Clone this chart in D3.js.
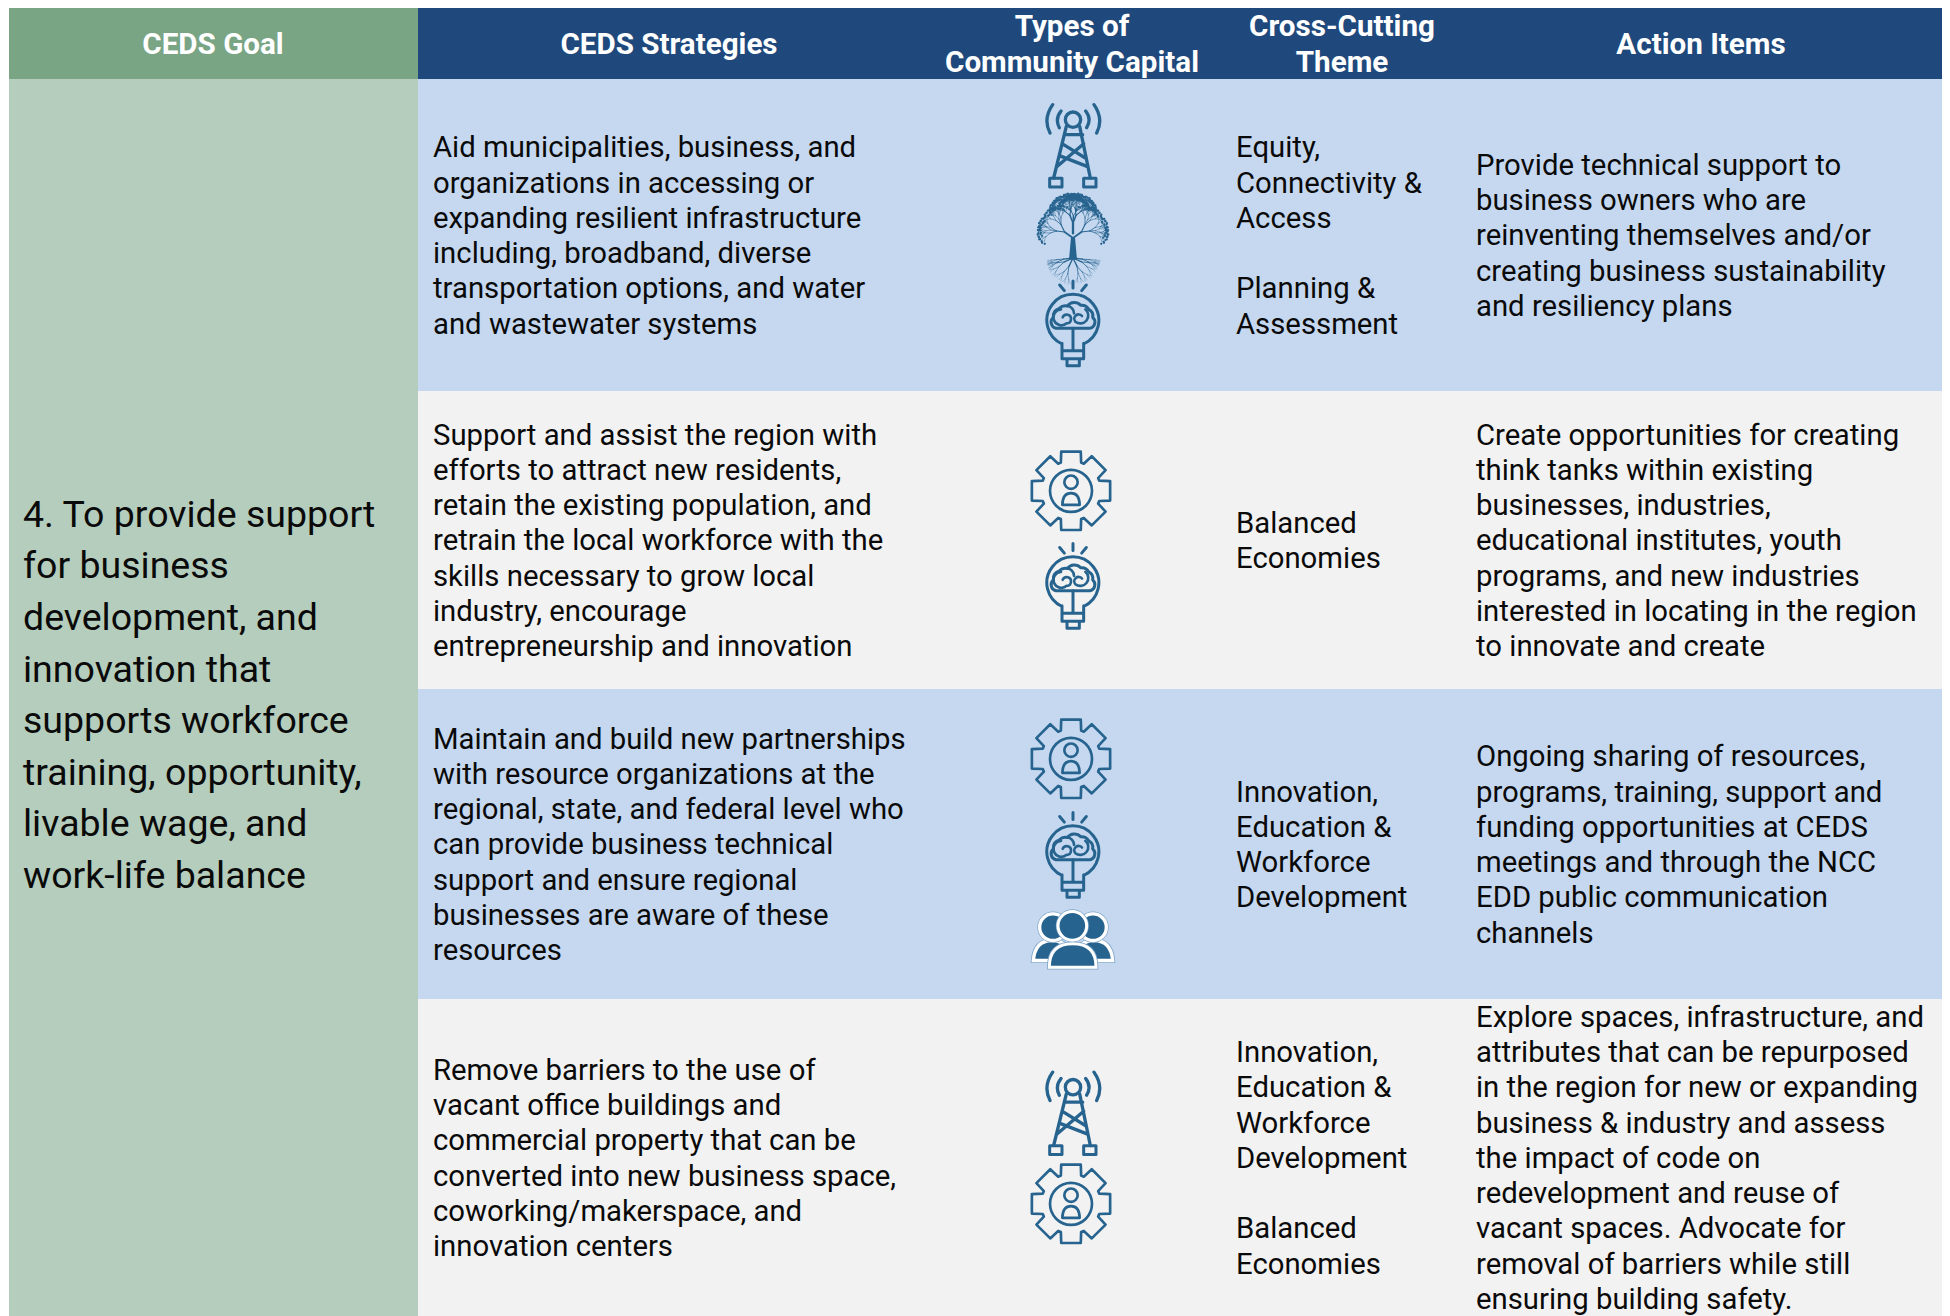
<!DOCTYPE html>
<html>
<head>
<meta charset="utf-8">
<script src="https://cdnjs.cloudflare.com/ajax/libs/d3/7.8.5/d3.min.js"></script>
<style>
  html, body { margin: 0; padding: 0; background: #fff; }
  svg { display: block; }
  text { font-family: Roboto, sans-serif; }
</style>
</head>
<body>
<div id="chart"></div>
<script>
// table content
var columns = ['goal', 'strategy', 'capital', 'theme', 'action'];
var headers = [
  ['CEDS Goal'],
  ['CEDS Strategies'],
  ['Types of', 'Community Capital'],
  ['Cross-Cutting', 'Theme'],
  ['Action Items']
];
var goalLines = [
  '4. To provide support', 'for business', 'development, and', 'innovation that',
  'supports workforce', 'training, opportunity,', 'livable wage, and', 'work-life balance'
];
var strategies = [
  ['Aid municipalities, business, and', 'organizations in accessing or', 'expanding resilient infrastructure', 'including, broadband, diverse', 'transportation options, and water', 'and wastewater systems'],
  ['Support and assist the region with', 'efforts to attract new residents,', 'retain the existing population, and', 'retrain the local workforce with the', 'skills necessary to grow local', 'industry, encourage', 'entrepreneurship and innovation'],
  ['Maintain and build new partnerships', 'with resource organizations at the', 'regional, state, and federal level who', 'can provide business technical', 'support and ensure regional', 'businesses are aware of these', 'resources'],
  ['Remove barriers to the use of', 'vacant office buildings and', 'commercial property that can be', 'converted into new business space,', 'coworking/makerspace, and', 'innovation centers']
];
var capitals = [
  ['tower', 'tree', 'bulb'],
  ['gear', 'bulb'],
  ['gear', 'bulb', 'people'],
  ['tower', 'gear']
];
var themes = [
  ['Equity,', 'Connectivity &', 'Access', '', 'Planning &', 'Assessment'],
  ['Balanced', 'Economies'],
  ['Innovation,', 'Education &', 'Workforce', 'Development'],
  ['Innovation,', 'Education &', 'Workforce', 'Development', '', 'Balanced', 'Economies']
];
var actions = [
  ['Provide technical support to', 'business owners who are', 'reinventing themselves and/or', 'creating business sustainability', 'and resiliency plans'],
  ['Create opportunities for creating', 'think tanks within existing', 'businesses, industries,', 'educational institutes, youth', 'programs, and new industries', 'interested in locating in the region', 'to innovate and create'],
  ['Ongoing sharing of resources,', 'programs, training, support and', 'funding opportunities at CEDS', 'meetings and through the NCC', 'EDD public communication', 'channels'],
  ['Explore spaces, infrastructure, and', 'attributes that can be repurposed', 'in the region for new or expanding', 'business & industry and assess', 'the impact of code on', 'redevelopment and reuse of', 'vacant spaces. Advocate for', 'removal of barriers while still', 'ensuring building safety.']
];

// layout
var width = 1950, height = 1316;
var colEdges = [9, 418, 1942];
var rowEdges = [79, 391, 689, 999, 1316];
var headTop = 8;
var headCenter = d3.scaleOrdinal().domain(columns).range([213, 669, 1072, 1342, 1701]);
var textLeft = d3.scaleOrdinal().domain(columns).range([23, 433, 0, 1236, 1476]);
var rowFill = ['#c5d8f0', '#f2f2f2', '#c5d8f0', '#f2f2f2'];
var iconColor = '#28648f';
var iconGap = [6, 11, 12, 8];
var lineH = 35.25, goalLineH = 51.6;

// size of each pictogram, x is the center column for it
var iconSize = {
  tower: { h: 85, cx: 1073 },
  tree: { h: 80, cx: 1073 },
  bulb: { h: 87, cx: 1073 },
  gear: { h: 81, cx: 1071 },
  people: { h: 59, cx: 1073 }
};

var svg = d3.select('#chart').append('svg').attr('width', width).attr('height', height);

var soft = svg.append('defs').append('filter').attr('id', 'soft');
soft.append('feGaussianBlur').attr('stdDeviation', 0.45);

// backgrounds
svg.append('rect').attr('x', colEdges[0]).attr('y', headTop).attr('width', colEdges[1] - colEdges[0]).attr('height', rowEdges[0] - headTop).attr('fill', '#79a585');
svg.append('rect').attr('x', colEdges[1]).attr('y', headTop).attr('width', colEdges[2] - colEdges[1]).attr('height', rowEdges[0] - headTop).attr('fill', '#1f497d');
svg.append('rect').attr('x', colEdges[0]).attr('y', rowEdges[0]).attr('width', colEdges[1] - colEdges[0]).attr('height', height - rowEdges[0]).attr('fill', '#b5cdbc');
svg.selectAll('rect.row').data(rowFill).enter().append('rect')
  .attr('class', 'row')
  .attr('x', colEdges[1])
  .attr('y', function(d, i) { return rowEdges[i]; })
  .attr('width', colEdges[2] - colEdges[1])
  .attr('height', function(d, i) { return rowEdges[i + 1] - rowEdges[i]; })
  .attr('fill', function(d) { return d; });

// headers
var head = svg.selectAll('g.head').data(headers).enter().append('g').attr('class', 'head');
head.selectAll('text').data(function(d, i) {
    return d.map(function(t, j) { return { t: t, col: columns[i], j: j, n: d.length }; });
  }).enter().append('text')
  .attr('x', function(d) { return headCenter(d.col); })
  .attr('y', function(d) { return (headTop + rowEdges[0]) / 2 + (d.j - (d.n - 1) / 2) * 36 + 10; })
  .attr('text-anchor', 'middle')
  .attr('font-weight', 700)
  .attr('font-size', 29.6)
  .attr('fill', '#fff')
  .text(function(d) { return d.t; });

// one block of left aligned lines, centered on cy
function block(g, lines, x, cy, lh, size) {
  g.append('g').selectAll('text').data(lines).enter().append('text')
    .attr('x', x)
    .attr('y', function(d, i) { return cy + (i - (lines.length - 1) / 2) * lh + size * 0.35 + 0.2; })
    .attr('font-size', size)
    .attr('fill', '#0a0a0a')
    .text(function(d) { return d; });
}

block(svg, goalLines, textLeft('goal'), 694, goalLineH, 37.5);
strategies.forEach(function(lines, i) { block(svg, lines, textLeft('strategy'), (rowEdges[i] + rowEdges[i + 1]) / 2, lineH, 29.3); });
themes.forEach(function(lines, i) { block(svg, lines, textLeft('theme'), (rowEdges[i] + rowEdges[i + 1]) / 2, lineH, 29.3); });
actions.forEach(function(lines, i) { block(svg, lines, textLeft('action'), (rowEdges[i] + rowEdges[i + 1]) / 2, lineH, 29.3); });

// pictograms, drawn at 3x and scaled down
function drawTower(g) {
  g.attr('fill', 'none').attr('stroke', iconColor).attr('stroke-width', 10).attr('stroke-linecap', 'round').attr('stroke-linejoin', 'round');
  g.append('circle').attr('cx', 83).attr('cy', 50).attr('r', 23);
  g.append('path').attr('d', 'M22,5 Q-8,48 14,90 M146,5 Q176,48 154,90 M47,24 Q28,48 42,74 M121,24 Q140,48 124,74');
  g.append('path').attr('d', 'M63,70 L25,225 M103,70 L135,225 M57,95 L112,95 M50,122 L120,165 M115,122 L36,190 M42,158 L125,190');
  g.append('rect').attr('x', 13).attr('y', 226).attr('width', 37).attr('height', 26).attr('stroke-width', 9);
  g.append('rect').attr('x', 115).attr('y', 226).attr('width', 37).attr('height', 26).attr('stroke-width', 9);
}

function drawBulb(g) {
  g.attr('fill', 'none').attr('stroke', iconColor).attr('stroke-width', 9).attr('stroke-linecap', 'round').attr('stroke-linejoin', 'round');
  g.append('path').attr('d', 'M41,15 L55,32 M81,3 L81,24 M121,15 L107,32');
  g.append('path').attr('d', 'M48,190 L48,235 M113,190 L113,235 M48,192 A78,78 0 1 1 113,192 M48,212 L113,212 M48,236 L113,236 M63,238 L63,257 L100,257 L100,238 M81,145 L81,212');
  // brain cloud
  g.append('path').attr('d', 'M30,145 A19,19 0 0 1 22,112 A24,24 0 0 1 40,85 A25,25 0 0 1 64,78 A26,26 0 0 1 104,76 A24,24 0 0 1 128,88 A22,22 0 0 1 140,112 A19,19 0 0 1 132,145 Z');
  g.append('path').attr('stroke-width', 8).attr('d', 'M45,88 A24,24 0 1 0 62,130 M62,130 A13,13 0 1 0 50,112 M118,88 A23,23 0 1 1 88,125 A12,12 0 1 1 108,108 M64,78 A22,22 0 0 1 84,100');
}

function drawGear(g) {
  g.attr('fill', 'none').attr('stroke', iconColor).attr('stroke-width', 8).attr('stroke-linejoin', 'round');
  var pts = [];
  d3.range(8).forEach(function(k) {
    var a = k * Math.PI / 4 - Math.PI / 2;
    [[90, -0.345], [121, -0.245], [121, 0.245], [90, 0.345]].forEach(function(p) {
      pts.push([121 + p[0] * Math.cos(a + p[1]), 121 + p[0] * Math.sin(a + p[1])]);
    });
  });
  g.append('path').attr('d', d3.line()(pts) + 'Z');
  g.append('circle').attr('cx', 121).attr('cy', 121).attr('r', 63);
  g.append('circle').attr('cx', 121).attr('cy', 95).attr('r', 20);
  g.append('path').attr('d', 'M95,163 Q96,128 121,128 Q146,128 147,163 Z');
}

function drawPeople(g) {
  // each shape gets a faint outer edge, then a white halo
  function person(headX, headY, headR, bodyPath, halo) {
    g.append('path').attr('d', bodyPath).attr('fill', '#fff').attr('stroke', '#7ea4c6').attr('stroke-width', halo + 5);
    g.append('path').attr('d', bodyPath).attr('fill', iconColor).attr('stroke', '#fff').attr('stroke-width', halo);
    g.append('circle').attr('cx', headX).attr('cy', headY).attr('r', headR).attr('fill', iconColor).attr('stroke', '#7ea4c6').attr('stroke-width', halo + 4);
    g.append('circle').attr('cx', headX).attr('cy', headY).attr('r', headR).attr('fill', iconColor).attr('stroke', '#fff').attr('stroke-width', halo);
  }
  person(65, 50, 40, 'M6,150 Q11,90 62,90 Q113,90 118,150 Z', 10);
  person(185, 50, 40, 'M132,150 Q137,90 188,90 Q239,90 244,150 Z', 10);
  person(123, 46, 43, 'M54,170 Q54,100 124,100 Q194,100 194,170 Z', 9);
}

function drawTree(g) {
  var cx = 107, segs = [], dots = [];
  // crown, fixed splitting pattern
  function grow(x, y, ang, len, w, depth) {
    var x2 = x + len * Math.sin(ang), y2 = y - len * Math.cos(ang);
    segs.push({ x1: x, y1: y, x2: x2, y2: y2, w: w });
    if (depth === 0) { dots.push([x2, y2]); return; }
    var spread = 0.38 + (depth % 3) * 0.06;
    grow(x2, y2, ang - spread, len * 0.8, w * 0.68, depth - 1);
    grow(x2, y2, ang + spread, len * 0.8, w * 0.68, depth - 1);
    if (depth % 2 === 0) grow(x2, y2, ang + spread * 0.15, len * 0.7, w * 0.6, depth - 1);
  }
  grow(cx, 118, 0, 31, 7, 6);
  grow(cx, 132, -0.95, 31, 5, 5);
  grow(cx, 132, 0.95, 31, 5, 5);
  // roots
  function root(x, y, ang, len, w, depth) {
    var x2 = x + len * Math.sin(ang), y2 = y + len * Math.cos(ang);
    segs.push({ x1: x, y1: y, x2: x2, y2: y2, w: w });
    if (depth === 0) return;
    root(x2, y2, Math.min(ang + 0.3, 1.5), len * 0.8, w * 0.6, depth - 1);
    root(x2, y2, Math.max(ang - 0.3, -1.5), len * 0.75, w * 0.6, depth - 1);
  }
  [-1.45, -1.15, -0.45, 0.45, 1.15, 1.45].forEach(function(a) { root(cx, 192, a, 28, 4, 3); });

  g.selectAll('circle').data(dots).enter().append('circle')
    .attr('cx', function(d) { return d[0]; }).attr('cy', function(d) { return d[1]; })
    .attr('r', 3.4).attr('fill', iconColor);
  g.selectAll('line').data(segs).enter().append('line')
    .attr('x1', function(d) { return d.x1; }).attr('y1', function(d) { return d.y1; })
    .attr('x2', function(d) { return d.x2; }).attr('y2', function(d) { return d.y2; })
    .attr('stroke', iconColor).attr('stroke-width', function(d) { return d.w; }).attr('stroke-linecap', 'round');
  g.append('path').attr('d', 'M95,197 L101,130 L113,130 L119,197 Z').attr('fill', iconColor);
}

var drawers = { tower: drawTower, tree: drawTree, bulb: drawBulb, gear: drawGear, people: drawPeople };
var iconW = { tower: 166, tree: 214, bulb: 162, gear: 242, people: 250 };

capitals.forEach(function(list, i) {
  var total = d3.sum(list, function(k) { return iconSize[k].h; }) + iconGap[i] * (list.length - 1);
  var y = (rowEdges[i] + rowEdges[i + 1]) / 2 - total / 2;
  list.forEach(function(k) {
    var wrap = svg.append('g').attr('filter', 'url(#soft)');
    var g = wrap.append('g').attr('transform', 'translate(' + (iconSize[k].cx - iconW[k] / 6) + ',' + y + ') scale(' + (1 / 3) + ')');
    drawers[k](g);
    y += iconSize[k].h + iconGap[i];
  });
});
</script>
</body>
</html>
